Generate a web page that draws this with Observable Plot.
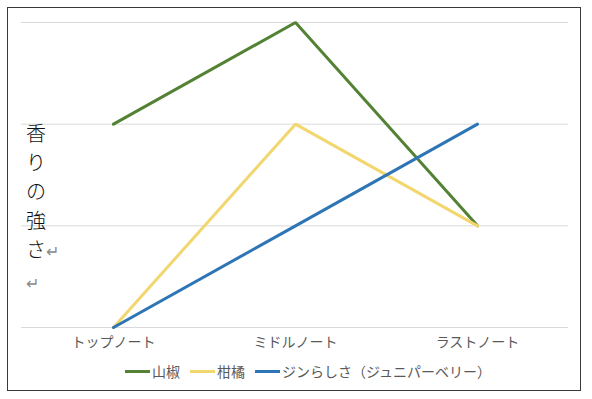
<!DOCTYPE html>
<html><head><meta charset="utf-8">
<script src="https://cdn.jsdelivr.net/npm/d3@7"></script>
<script src="https://cdn.jsdelivr.net/npm/@observablehq/plot@0.6"></script>
<style>
body{margin:0;background:#fff;font-family:"Noto Sans CJK JP",sans-serif;}
#frame{position:absolute;left:7px;top:7px;width:572px;height:382px;border:1.5px solid #3a3a3a;}
#chart{position:absolute;left:0;top:0;}
#ylabel{position:absolute;left:26px;top:118px;font-size:20px;line-height:29px;color:#111;font-weight:300;}
#ylabel .ret{color:#8a8a8a;font-size:16px;font-family:"DejaVu Sans",sans-serif;font-weight:300;}
#legend{position:absolute;top:361px;left:125px;display:flex;align-items:center;font-size:14px;color:#595959;white-space:nowrap;}
#legend .item{display:flex;align-items:center;margin-right:10px;}
#legend .sw{width:25px;height:3px;margin-right:2px;}
</style></head>
<body>
<div id="frame"></div>
<div id="chart"></div>
<div id="ylabel">香<br>り<br>の<br>強<br>さ<span class="ret">↵</span><br><span class="ret">↵</span></div>
<div id="legend"></div>
<script>
const categories = ["トップノート", "ミドルノート", "ラストノート"];
const seriesNames = ["山椒", "柑橘", "ジンらしさ（ジュニパーベリー）"];
const sansho = [2, 3, 1];
const kankitsu = [0, 2, 1];
const gin = [0, 1, 2];
const gridTicks = [0, 1, 2, 3];
const colors = ["#548235", "#F2D66E", "#2E75B6"];

const valuesBySeries = [sansho, kankitsu, gin];
const data = [];
seriesNames.forEach((s, i) => categories.forEach((c, j) => data.push({series: s, cat: c, value: valuesBySeries[i][j]})));

const chart = Plot.plot({
  width: 592,
  height: 360,
  marginLeft: 21,
  marginRight: 24,
  marginTop: 22,
  marginBottom: 33,
  style: {fontFamily: '"Noto Sans CJK JP", sans-serif', background: "transparent"},
  x: {type: "point", domain: categories, padding: 0.5, label: null},
  y: {domain: [0, 3], axis: null},
  color: {domain: seriesNames, range: colors},
  marks: [
    Plot.ruleY(gridTicks, {stroke: "#d9d9d9", strokeWidth: 1}),
    Plot.axisX({tickSize: 0, tickPadding: 10, fontSize: 14, fill: "#595959", label: null}),
    Plot.line(data, {x: "cat", y: "value", z: "series", stroke: "series", strokeWidth: 3, strokeLinejoin: "miter"})
  ]
});
document.getElementById("chart").appendChild(chart);

const legend = document.getElementById("legend");
seriesNames.forEach((s, i) => {
  const item = document.createElement("div");
  item.className = "item";
  const sw = document.createElement("div");
  sw.className = "sw";
  sw.style.background = colors[i];
  const t = document.createElement("span");
  t.textContent = s;
  item.appendChild(sw); item.appendChild(t);
  legend.appendChild(item);
});
</script>
</body></html>
